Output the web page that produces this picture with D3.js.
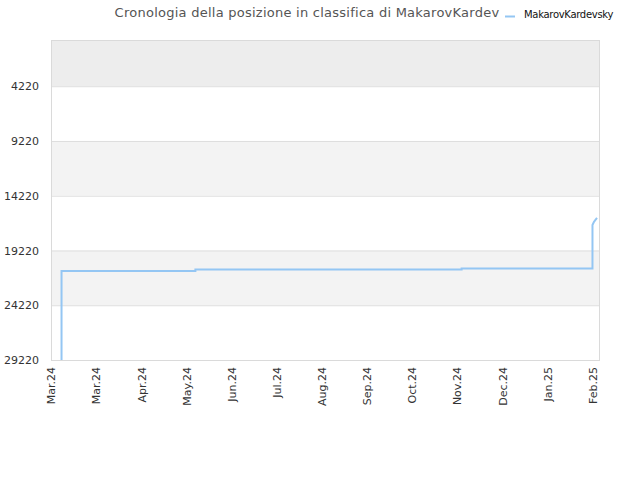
<!DOCTYPE html>
<html>
<head>
<meta charset="utf-8">
<script src="https://cdn.jsdelivr.net/npm/d3@7"></script>
<style>
  body { margin: 0; background: #fff; }
  svg { font-family: "DejaVu Sans", sans-serif; }
</style>
</head>
<body>
<svg id="chart" width="640" height="480"></svg>
<script>
// chart data
const chartTitle = "Cronologia della posizione in classifica di MakarovKardev";
const seriesName = "MakarovKardevsky";
const yTicks = [4220, 9220, 14220, 19220, 24220, 29220];
const xTickDates = ["2024-03-01", "2024-03-31", "2024-04-30", "2024-05-30", "2024-06-29",
    "2024-07-29", "2024-08-28", "2024-09-27", "2024-10-27", "2024-11-26",
    "2024-12-26", "2025-01-25", "2025-02-24"];
const rankDates = ["2024-03-08", "2024-03-08", "2024-03-08", "2024-03-08",
    "2024-06-05", "2024-06-05", "2024-11-29", "2024-11-29",
    "2025-02-24", "2025-02-24", "2025-02-24", "2025-02-24", "2025-02-25", "2025-02-27"];
const rankValues = [29220, 25480, 23440, 21090,
    21090, 20950, 20950, 20860,
    20860, 19790, 17990, 16890, 16600, 16250];

const parse = d3.timeParse("%Y-%m-%d");
const W = 640, H = 480;
const margin = {top: 40, right: 40, bottom: 120, left: 51};
const svg = d3.select("#chart");

let x = d3.scaleTime()
    .domain([parse("2024-03-01"), parse("2025-03-01")])
    .range([margin.left, W - margin.right]);
let y = d3.scaleLinear()
    .domain([0, 29220])
    .range([margin.top, H - margin.bottom]);

// alternating background bands
let bandEdges = [0].concat(yTicks);
for (let i = 0; i < bandEdges.length - 1; i++) {
    let fill = "#ffffff";
    if (i == 0) fill = "#ededed";
    else if (i % 2 == 0) fill = "#f3f3f3";
    svg.append("rect")
        .attr("x", margin.left)
        .attr("y", y(bandEdges[i]))
        .attr("width", W - margin.right - margin.left)
        .attr("height", y(bandEdges[i + 1]) - y(bandEdges[i]))
        .attr("fill", fill);
}

// grid lines
svg.append("g").selectAll("line").data(yTicks).enter().append("line")
    .attr("x1", margin.left).attr("x2", W - margin.right)
    .attr("y1", d => y(d) + 0.5).attr("y2", d => y(d) + 0.5)
    .attr("stroke", "#dedede");

// plot border
svg.append("rect")
    .attr("x", margin.left + 0.5).attr("y", margin.top + 0.5)
    .attr("width", W - margin.right - margin.left - 1)
    .attr("height", H - margin.bottom - margin.top)
    .attr("fill", "none")
    .attr("stroke", "#dadada");

// y axis labels
let yAxis = svg.append("g")
    .attr("transform", `translate(${margin.left},0)`)
    .call(d3.axisLeft(y).tickValues(yTicks).tickFormat(d3.format("d")).tickSize(0).tickPadding(12));
yAxis.select(".domain").remove();
yAxis.selectAll("text").attr("font-size", 11).attr("fill", "#333")
    .attr("font-family", "DejaVu Sans, sans-serif");

// x axis labels
let xAxis = svg.append("g")
    .attr("transform", `translate(0,${H - margin.bottom})`)
    .call(d3.axisBottom(x).tickValues(xTickDates.map(parse))
        .tickFormat(d3.timeFormat("%b.%y")).tickSize(0));
xAxis.select(".domain").remove();
xAxis.selectAll("text")
    .attr("font-size", 11).attr("fill", "#333")
    .attr("font-family", "DejaVu Sans, sans-serif")
    .attr("text-anchor", "end")
    .attr("transform", "rotate(-90)")
    .attr("x", -7).attr("y", 0).attr("dy", "0.35em");

// rank line
svg.append("clipPath").attr("id", "plotclip").append("rect")
    .attr("x", margin.left).attr("y", margin.top)
    .attr("width", W - margin.right - margin.left)
    .attr("height", H - margin.bottom - margin.top);

let points = rankDates.map((d, i) => [parse(d), rankValues[i]]);
let line = d3.line().x(d => x(d[0])).y(d => y(d[1]));
svg.append("path")
    .datum(points)
    .attr("clip-path", "url(#plotclip)")
    .attr("d", line)
    .attr("fill", "none")
    .attr("stroke", "#94c6f3")
    .attr("stroke-width", 2);

// title
svg.append("text")
    .attr("x", 307).attr("y", 17)
    .attr("text-anchor", "middle")
    .attr("font-size", 13).attr("fill", "#555")
    .attr("letter-spacing", 0.25)
    .text(chartTitle);

// legend
svg.append("line")
    .attr("x1", 505).attr("x2", 515).attr("y1", 16.5).attr("y2", 16.5)
    .attr("stroke", "#94c6f3").attr("stroke-width", 2);
svg.append("text")
    .attr("x", 524).attr("y", 18)
    .attr("font-size", 10).attr("fill", "#111")
    .attr("letter-spacing", -0.3)
    .text(seriesName);
</script>
</body>
</html>
